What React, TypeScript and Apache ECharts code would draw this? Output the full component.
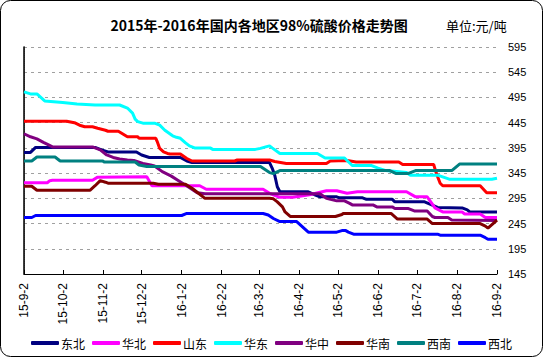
import React, { useEffect, useRef } from "react";
import * as echarts from "echarts";

const tickDays = [0, 30, 61, 91, 122, 153, 182, 213, 243, 274, 304, 335, 366];
const tickLabels = ["15-9-2", "15-10-2", "15-11-2", "15-12-2", "16-1-2", "16-2-2", "16-3-2", "16-4-2", "16-5-2", "16-6-2", "16-7-2", "16-8-2", "16-9-2"];

const seriesNames = ["东北", "华北", "山东", "华东", "华中", "华南", "西南", "西北"];
const seriesColors = ["#000080", "#FF00FF", "#FF0000", "#00FFFF", "#800080", "#800000", "#008080", "#0000FF"];

// [day offset from 2015-09-02, price]
const dongbei = [[0,386],[5,386],[9,396],[55,396],[60,391],[65,387],[87,387],[91,381],[97,376],[121,376],[126,369],[130,366],[190,366],[192,355],[194,341],[196,318],[198,308],[220,308],[225,302],[229,298],[242,298],[244,296],[262,296],[265,293],[285,293],[287,288],[310,288],[320,277],[339,276],[343,272],[345,268],[366,268]];
const huabei = [[0,326],[18,326],[20,330],[22,331],[53,331],[57,337],[95,338],[99,320],[136,320],[141,313],[185,313],[190,305],[198,297],[208,297],[221,302],[234,310],[242,310],[250,305],[258,308],[296,308],[303,298],[312,298],[318,276],[324,268],[339,268],[341,264],[353,264],[357,257],[366,257]];
const shandong = [[0,448],[33,448],[39,445],[43,440],[47,437],[53,437],[57,434],[63,430],[65,428],[73,428],[80,417],[88,417],[89,414],[102,414],[103,408],[105,394],[108,387],[111,384],[113,383],[121,383],[126,374],[130,369],[163,369],[165,371],[190,371],[194,368],[203,364],[234,364],[237,369],[250,370],[257,367],[290,367],[293,362],[317,362],[319,345],[322,325],[324,320],[353,320],[358,306],[366,306]];
const huadong = [[0,506],[5,502],[10,502],[16,488],[30,485],[41,482],[55,480],[74,480],[80,474],[84,464],[86,452],[88,447],[92,444],[101,444],[105,440],[109,430],[115,419],[118,416],[121,414],[125,405],[128,399],[132,395],[144,395],[146,392],[179,392],[183,394],[187,397],[190,399],[192,395],[198,384],[227,384],[233,375],[248,375],[254,360],[269,360],[274,355],[280,350],[296,346],[299,341],[320,341],[329,333],[362,333],[366,335]];
const huazhong = [[0,423],[5,417],[10,413],[15,406],[19,401],[22,397],[53,397],[59,391],[64,381],[69,376],[74,373],[80,371],[85,370],[92,364],[98,361],[101,359],[107,348],[114,339],[119,331],[127,318],[134,306],[140,304],[229,304],[234,295],[242,290],[248,290],[252,285],[254,282],[270,282],[273,278],[285,278],[287,275],[297,275],[302,270],[312,270],[316,259],[318,257],[328,257],[331,252],[366,251]];
const huanan = [[0,319],[6,319],[10,311],[51,311],[55,320],[59,330],[63,327],[65,325],[100,325],[104,323],[125,323],[130,315],[135,305],[140,295],[190,295],[193,294],[196,288],[200,278],[202,268],[206,259],[241,259],[246,263],[247,265],[284,265],[289,254],[312,254],[316,245],[353,245],[357,240],[359,236],[366,252]];
const xinan = [[0,369],[6,369],[10,377],[24,377],[28,369],[61,369],[62,367],[86,367],[89,361],[95,358],[183,358],[190,346],[193,344],[198,350],[283,350],[288,344],[297,344],[303,350],[331,350],[337,363],[366,363]];
const xibei = [[0,257],[6,257],[9,261],[122,261],[126,265],[185,265],[189,262],[193,255],[198,249],[211,249],[220,228],[242,228],[246,231],[249,231],[251,228],[255,224],[320,224],[322,222],[353,222],[357,217],[359,214],[366,214]];

const allData = [dongbei, huabei, shandong, huadong, huazhong, huanan, xinan, xibei];

const titleText = "2015年-2016年国内各地区98%硫酸价格走势图";
const unitText = "单位:元/吨";

const CJK = "'Noto Sans CJK SC', sans-serif";

export default function App() {
  const ref = useRef<HTMLDivElement>(null);
  useEffect(() => {
    if (!ref.current) return;
    const chart = echarts.init(ref.current, undefined, { renderer: "svg" });
    chart.setOption({
      animation: false,
      backgroundColor: "#fff",
      grid: { left: 24, right: 46, top: 47, bottom: 83, containLabel: false },
      legend: {
        data: seriesNames,
        left: 31,
        top: 337,
        padding: 0,
        icon: "roundRect",
        itemWidth: 28,
        itemHeight: 4,
        itemGap: 7,
        textStyle: { fontSize: 12, color: "#000", fontFamily: CJK, padding: [0, 0, 0, -3] },
      },
      xAxis: {
        type: "value",
        min: 0,
        max: 366,
        axisLine: { show: true, lineStyle: { color: "#000", width: 1 } },
        axisTick: { show: true, inside: true, length: 4, customValues: tickDays, lineStyle: { color: "#000" } },
        axisLabel: {
          customValues: tickDays,
          rotate: 90,
          fontSize: 12,
          color: "#000",
          fontFamily: "'Liberation Sans', Arial, sans-serif",
          margin: 9,
          formatter: (v: number) => {
            const i = tickDays.indexOf(Math.round(v));
            return i >= 0 ? tickLabels[i] : "";
          },
        },
        splitLine: { show: false },
      },
      yAxis: [
        {
          type: "value",
          position: "right",
          min: 145,
          max: 595,
          interval: 50,
          axisLine: { show: true, lineStyle: { color: "#808080", type: "dotted", width: 1 } },
          axisTick: { show: false },
          axisLabel: { fontSize: 11, color: "#000", margin: 11, fontFamily: "'Liberation Sans', Arial, sans-serif" },
          splitLine: { show: true, lineStyle: { color: "#A0A0A0", type: [3, 4], width: 1 } },
        },
        {
          type: "value",
          position: "left",
          min: 145,
          max: 595,
          interval: 50,
          axisLine: { show: true, onZero: false, lineStyle: { color: "#000", width: 1.5 } },
          axisTick: { show: false },
          axisLabel: { show: false },
          splitLine: { show: false },
        },
      ],
      series: seriesNames.map((name, i) => ({
        name,
        type: "line",
        yAxisIndex: 0,
        data: allData[i],
        showSymbol: false,
        symbol: "none",
        color: seriesColors[i],
        lineStyle: { width: 3, color: seriesColors[i] },
      })),
      graphic: [
        {
          type: "rect",
          shape: { x: 0.5, y: 0.5, width: 542, height: 356, r: 10 },
          style: { fill: "none", stroke: "#000", lineWidth: 1 },
          silent: true,
        },
        {
          type: "text",
          x: 259,
          y: 25,
          style: {
            text: titleText,
            fill: "#000",
            font: `bold 14px ${CJK}`,
            textAlign: "center",
            textVerticalAlign: "middle",
          },
        },
        {
          type: "text",
          x: 446,
          y: 25,
          style: {
            text: unitText,
            fill: "#000",
            font: `13px ${CJK}`,
            textAlign: "left",
            textVerticalAlign: "middle",
          },
        },
      ],
    });
    return () => chart.dispose();
  }, []);
  return (
    <div
      ref={ref}
      style={{ position: "fixed", left: 0, top: 0, width: 543, height: 357, background: "#fff" }}
    />
  );
}
